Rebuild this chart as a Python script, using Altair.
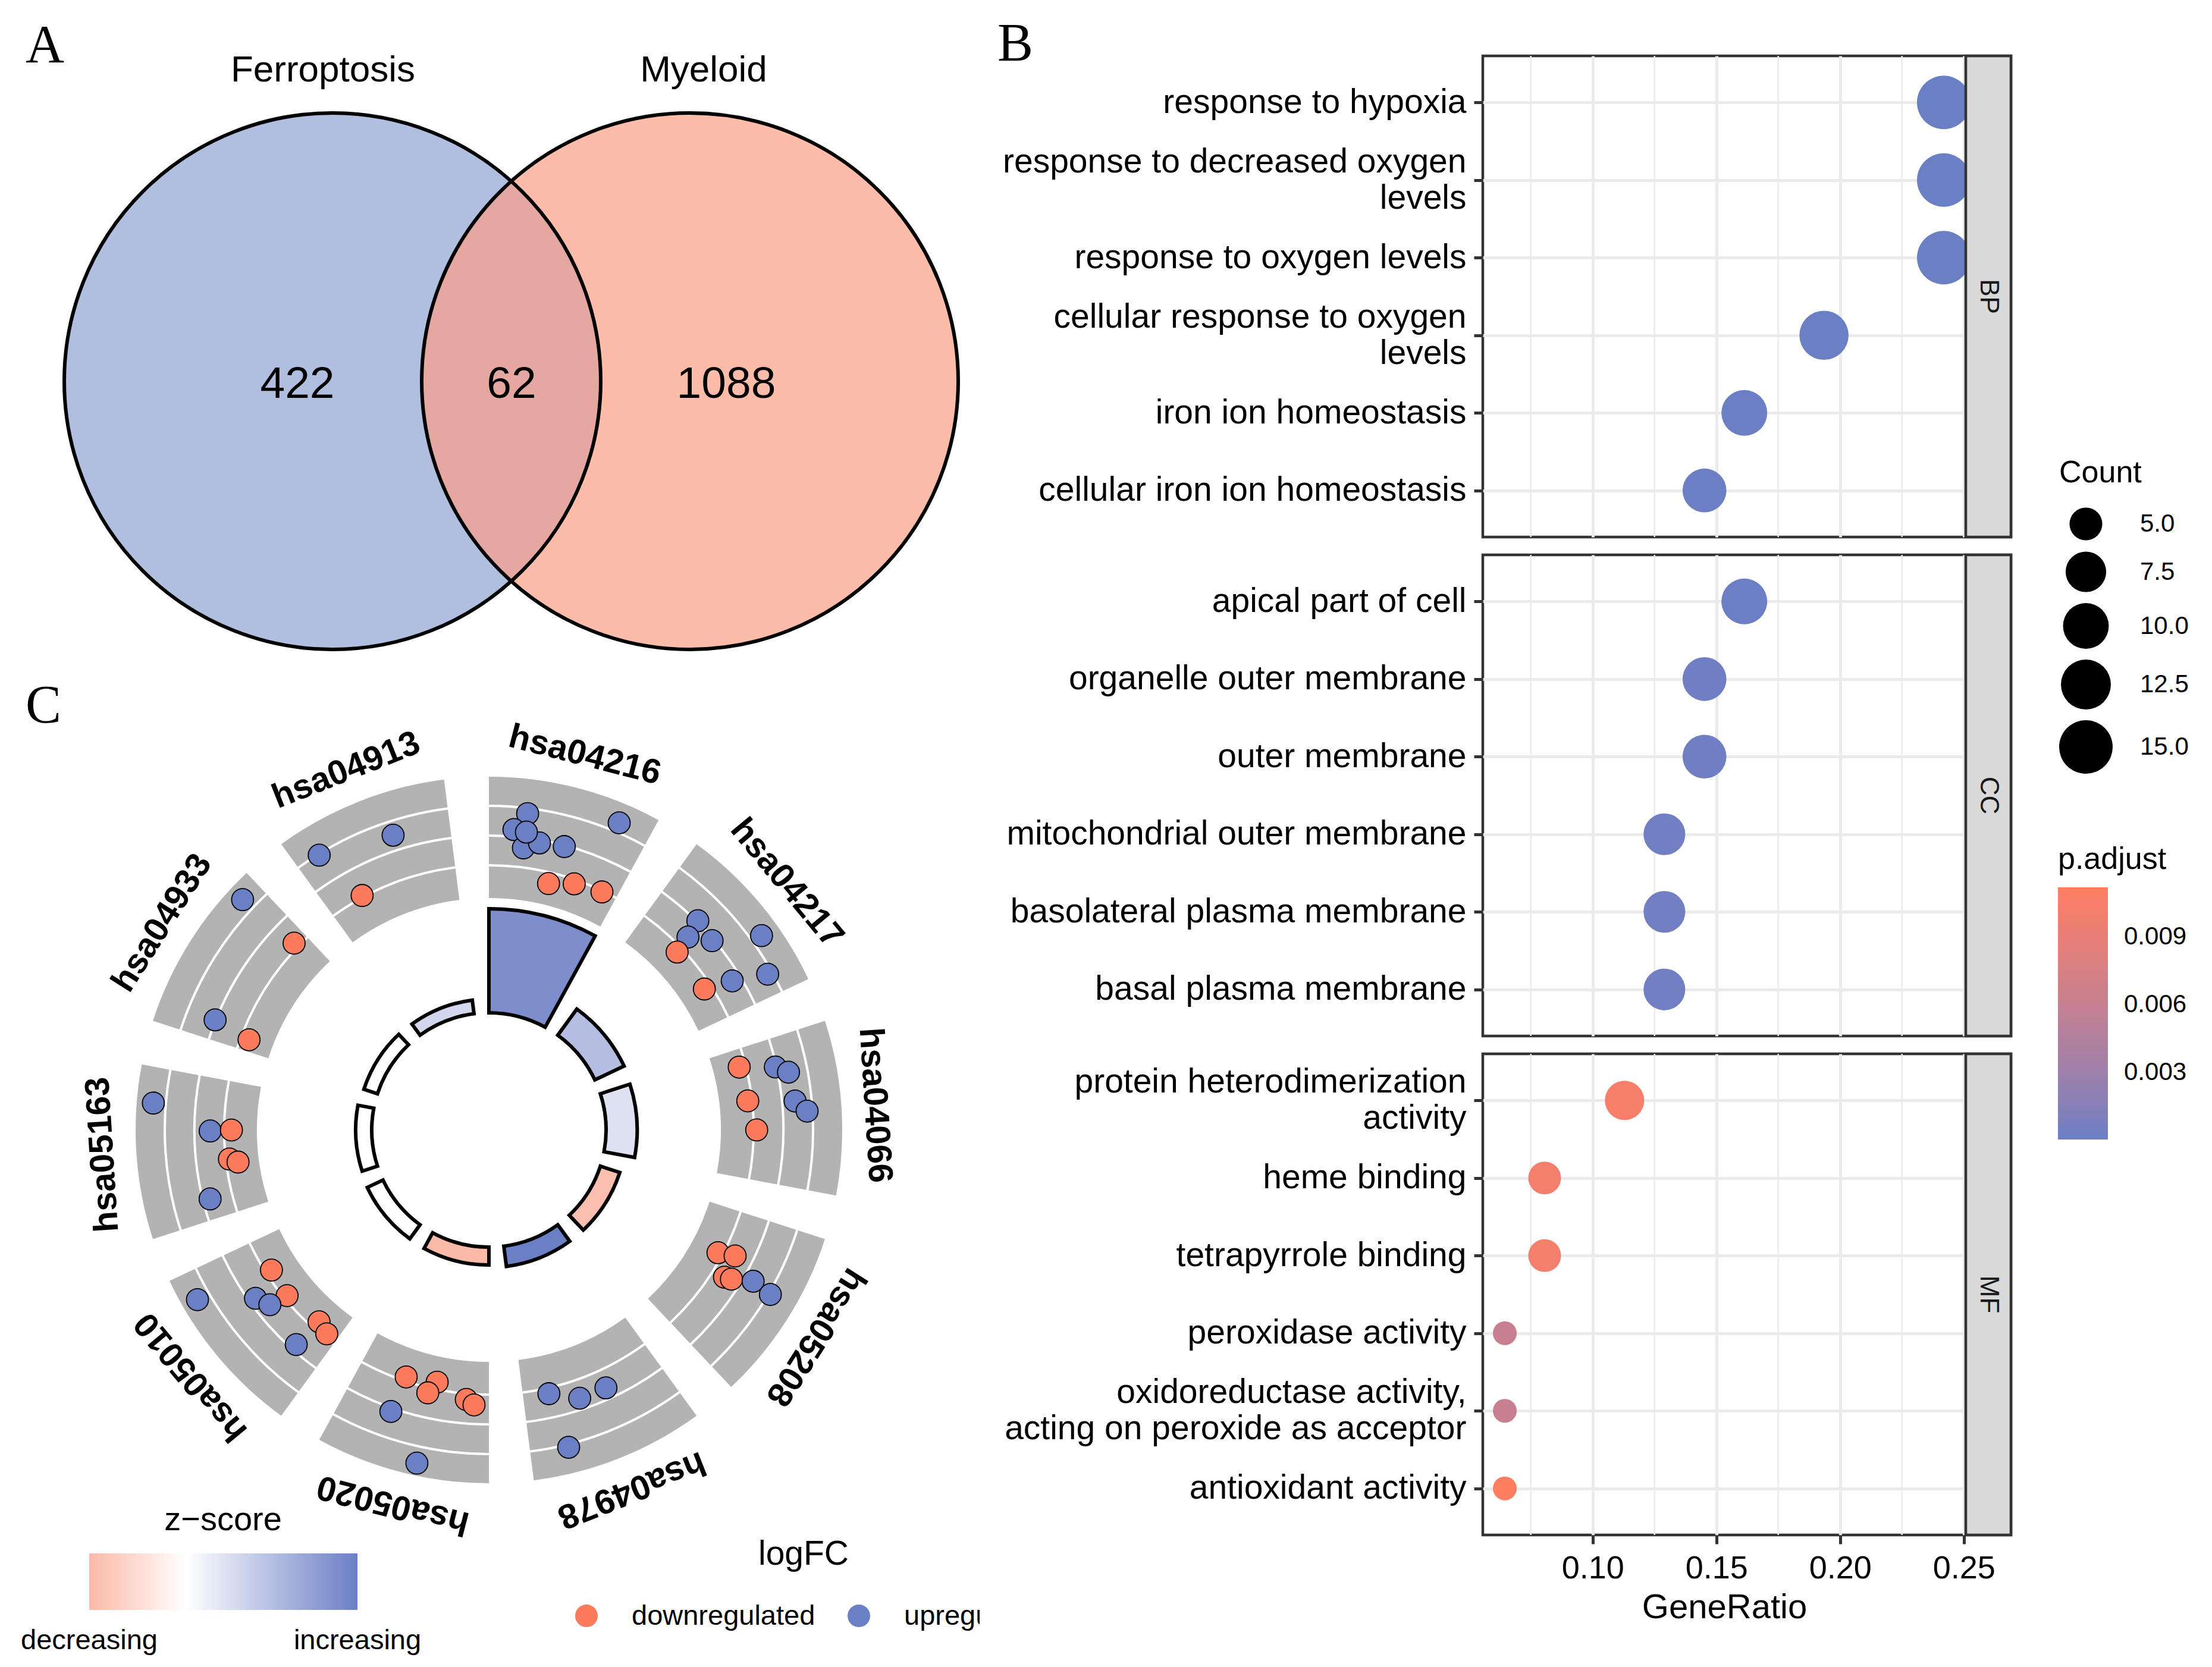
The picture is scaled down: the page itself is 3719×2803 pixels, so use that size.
import math
import pandas as pd
import altair as alt

SANS = "Liberation Sans"
SERIF = "Liberation Serif"

# ======================= DATA =======================
# --- A: Venn diagram ---
venn_sets = ["Ferroptosis", "Myeloid"]
venn_region_counts = [422, 62, 1088]          # only Ferroptosis, both, only Myeloid

# --- B: GO enrichment dot plot ---
go_ontology = ["BP"] * 6 + ["CC"] * 6 + ["MF"] * 6
go_terms = [
    "response to hypoxia",
    "response to decreased oxygen\nlevels",
    "response to oxygen levels",
    "cellular response to oxygen\nlevels",
    "iron ion homeostasis",
    "cellular iron ion homeostasis",
    "apical part of cell",
    "organelle outer membrane",
    "outer membrane",
    "mitochondrial outer membrane",
    "basolateral plasma membrane",
    "basal plasma membrane",
    "protein heterodimerization\nactivity",
    "heme binding",
    "tetrapyrrole binding",
    "peroxidase activity",
    "oxidoreductase activity,\nacting on peroxide as acceptor",
    "antioxidant activity",
]
go_gene_ratio = [0.2419, 0.2419, 0.2419, 0.1935, 0.1613, 0.1452,
                 0.1613, 0.1452, 0.1452, 0.1290, 0.1290, 0.1290,
                 0.1129, 0.0806, 0.0806, 0.0645, 0.0645, 0.0645]
go_count = [15, 15, 15, 12, 10, 9,
            10, 9, 9, 8, 8, 8,
            7, 5, 5, 4, 4, 4]
go_padj = [1.2e-5, 1.2e-5, 1.5e-5, 3.0e-5, 8.0e-5, 1.2e-4,
           1.0e-4, 2.4e-4, 2.4e-4, 3.5e-4, 3.5e-4, 3.5e-4,
           0.0104, 0.0101, 0.0101, 0.0062, 0.0062, 0.0112]
x_major_ticks = [0.10, 0.15, 0.20, 0.25]
x_minor_ticks = [0.075, 0.125, 0.175, 0.225]
count_legend_values = [5.0, 7.5, 10.0, 12.5, 15.0]
padj_legend_values = [0.003, 0.006, 0.009]

# --- C: KEGG GOCircle ---
kegg_pathways = ["hsa04216", "hsa04217", "hsa04066", "hsa05208", "hsa04978",
                 "hsa05020", "hsa05010", "hsa05163", "hsa04933", "hsa04913"]
kegg_neglog10_padj = [7.5, 2.33, 2.24, 1.47, 1.47, 1.29, 1.25, 1.16, 1.03, 0.99]
kegg_zscore = [1.75, 1.0, 0.45, -1.05, 2.0, -1.13, 0.0, 0.0, 0.0, 0.6]

gene_pathway = (["hsa04216"] * 10 + ["hsa04217"] * 8 + ["hsa04066"] * 7 + ["hsa05208"] * 6
                + ["hsa04978"] * 4 + ["hsa05020"] * 7 + ["hsa05010"] * 8 + ["hsa05163"] * 6
                + ["hsa04933"] * 4 + ["hsa04913"] * 3)
U, D = "upregulated", "downregulated"
gene_regulation = ([U, U, U, U, U, U, U, D, D, D]
                   + [U, U, D, U, U, U, U, D]
                   + [D, D, D, U, U, U, U]
                   + [D, D, D, D, U, U]
                   + [U, U, U, U]
                   + [D, D, D, D, D, U, U]
                   + [D, D, U, U, D, D, U, U]
                   + [U, U, D, D, D, U]
                   + [U, D, U, D]
                   + [U, U, D])
gene_logfc = ([0.90, 0.33, -0.24, 0.00, 0.29, 1.39, 0.06, -1.25, -1.02, -0.92]
              + [0.14, -0.47, -1.07, 0.04, 1.43, 0.92, -0.20, -1.12]
              + [-1.10, -1.02, -0.78, 0.06, 0.45, 0.53, 0.90]
              + [-1.04, -0.49, -0.45, -0.22, 0.43, 1.14]
              + [-0.69, -0.27, -0.27, 1.18]
              + [-1.02, -1.12, -0.71, -0.69, -0.53, 0.22, 1.63]
              + [-1.08, -1.00, -0.12, -0.37, -1.16, -1.02, -0.10, 1.51]
              + [1.49, -0.42, -1.12, -1.00, -1.27, -0.14]
              + [1.51, -0.71, 0.12, -1.16]
              + [1.04, 0.61, -0.82])
gene_angle_pos = ([0.243, 0.166, 0.243, 0.348, 0.250, 0.801, 0.519, 0.474, 0.666, 0.885]
                  + [0.312, 0.345, 0.370, 0.477, 0.645, 0.864, 0.784, 0.725]
                  + [0.136, 0.404, 0.627, 0.195, 0.247, 0.439, 0.509]
                  + [0.355, 0.317, 0.488, 0.474, 0.411, 0.429]
                  + [0.808, 0.603, 0.404, 0.763]
                  + [0.645, 0.404, 0.456, 0.167, 0.108, 0.669, 0.425]
                  + [0.739, 0.509, 0.634, 0.537, 0.192, 0.087, 0.206, 0.829]
                  + [0.787, 0.620, 0.627, 0.404, 0.373, 0.143]
                  + [0.874, 0.899, 0.136, 0.091]
                  + [0.150, 0.627, 0.265])
z_legend_labels = ["decreasing", "increasing"]
logfc_legend_labels = ["downregulated", "upregulated"]

# ======================= STYLE / LAYOUT =======================
BLUE = "#6B7FC5"
RED = "#FC7B5C"
SALMON = "#FBB9A8"
GRAY_BAND = "#B3B3B3"
GRID = "#EBEBEB"
BORDER = "#333333"
STRIP = "#D9D9D9"
VENN_FILL = ["#B0BEE0", "#FC9E86"]

LEFT_W, LEFT_H = 1638, 2787          # left column (A + C), page x 8..1646
RIGHT_X0 = 2492                       # page x of GO panels
PLOT_W, PANEL_W, PANEL_H = 812, 888, 809

VENN_CX, VENN_CY, VENN_R = [558, 1159], 640, 451
VENN_TITLE_X, VENN_TITLE_Y = [542, 1182], 136
VENN_NUM_X, VENN_NUM_Y = [499, 859, 1220], 668

CX, CY = 821, 1899
SECTOR_STEP, SECTOR_SPAN = 36.0, 28.7
BAR_R0, BAR_R1 = 197, 372
BAND_EDGES = [(390, 443), (447, 493), (497, 543), (547, 594)]
LFC_R0, LFC_PER_UNIT = 490, 51
R_LABEL = 650
GENE_D, KEY_D = 37, 38               # point diameters (vega symbol size = diameter^2)

XS_L = alt.Scale(domain=[8, 8 + LEFT_W], nice=False, zero=False)
YS_L = alt.Scale(domain=[8, 8 + LEFT_H], nice=False, zero=False, reverse=True)


def LX(f):
    return alt.X(f, type="quantitative", scale=XS_L, axis=None)


def LY(f):
    return alt.Y(f, type="quantitative", scale=YS_L, axis=None)


def LXD(v):
    return alt.XDatum(v, type="quantitative", scale=XS_L, axis=None)


def LYD(v):
    return alt.YDatum(v, type="quantitative", scale=YS_L, axis=None)


ONE = pd.DataFrame({"k": [0]})

# ======================= PANEL A =======================
venn_df = pd.DataFrame({"set": venn_sets, "cx": VENN_CX, "cy": [VENN_CY] * 2, "tx": VENN_TITLE_X})
venn_size = (2 * VENN_R) ** 2
venn_fill = alt.Chart(venn_df).mark_point(shape="circle", filled=True, size=venn_size,
                                          strokeWidth=0, opacity=1).encode(
    x=LX("cx"), y=LY("cy"),
    color=alt.Color("set:N", scale=alt.Scale(domain=venn_sets, range=VENN_FILL), legend=None),
    fillOpacity=alt.FillOpacity("set:N", scale=alt.Scale(domain=venn_sets, range=[1.0, 0.7]), legend=None),
)
venn_line = alt.Chart(venn_df).mark_point(shape="circle", filled=False, size=venn_size,
                                          color="black", strokeWidth=6, opacity=1).encode(
    x=LX("cx"), y=LY("cy"))
venn_title = alt.Chart(venn_df).mark_text(font=SANS, fontSize=62, align="center",
                                          baseline="alphabetic", color="black").encode(
    x=LX("tx"), y=LYD(VENN_TITLE_Y), text="set:N")
num_df = pd.DataFrame({"n": venn_region_counts, "x": VENN_NUM_X})
venn_nums = alt.Chart(num_df).mark_text(font=SANS, fontSize=75, align="center",
                                        baseline="alphabetic", color="black").encode(
    x=LX("x"), y=LYD(VENN_NUM_Y), text="n:Q")
letters_df = pd.DataFrame({"t": ["A", "C"], "x": [42, 42], "y": [104, 1214]})
letters = alt.Chart(letters_df).mark_text(font=SERIF, fontSize=90, align="left",
                                          baseline="alphabetic", color="black").encode(
    x=LX("x"), y=LY("y"), text="t:N")

# ======================= PANEL C =======================
band_rows = []
for i, p in enumerate(kegg_pathways):
    for (r0, r1) in BAND_EDGES:
        band_rows.append({"pathway": p, "idx": i, "r0": r0, "r1": r1})
band_df = pd.DataFrame(band_rows)
bands = alt.Chart(band_df).transform_calculate(
    t0=f"datum.idx*{SECTOR_STEP}*PI/180",
    t1=f"(datum.idx*{SECTOR_STEP}+{SECTOR_SPAN})*PI/180",
).mark_arc(color=GRAY_BAND).encode(
    x=LXD(CX), y=LYD(CY),
    theta=alt.Theta("t0:Q", scale=None, stack=None), theta2="t1:Q",
    radius=alt.Radius("r1:Q", scale=None, stack=None), radius2="r0:Q",
)

path_df = pd.DataFrame({"pathway": kegg_pathways, "nlp": kegg_neglog10_padj, "z": kegg_zscore})
path_df["idx"] = range(len(kegg_pathways))
zmin, zmax = min(kegg_zscore), max(kegg_zscore)
bars = alt.Chart(path_df).transform_calculate(
    t0=f"datum.idx*{SECTOR_STEP}*PI/180",
    t1=f"(datum.idx*{SECTOR_STEP}+{SECTOR_SPAN})*PI/180",
).mark_arc(stroke="black", strokeWidth=6, strokeJoin="miter").encode(
    x=LXD(CX), y=LYD(CY),
    theta=alt.Theta("t0:Q", scale=None, stack=None), theta2="t1:Q",
    radius=alt.Radius("nlp:Q", scale=alt.Scale(type="linear", domain=[0, 7.5], range=[BAR_R0, BAR_R1]),
                      stack=None),
    radius2=alt.value(BAR_R0),
    color=alt.Color("z:Q", scale=alt.Scale(domain=[zmin, 0, zmax], range=[SALMON, "white", BLUE],
                                           interpolate="lab"), legend=None),
)

path_labels = alt.Chart(path_df).transform_calculate(
    ang=f"datum.idx*{SECTOR_STEP}+{SECTOR_SPAN / 2}",
    lx=f"{CX}+{R_LABEL}*sin(datum.ang*PI/180)",
    ly=f"{CY}-{R_LABEL}*cos(datum.ang*PI/180)",
).mark_text(font=SANS, fontSize=58, fontWeight="bold", align="center", baseline="middle",
            color="black").encode(
    x=LX("lx"), y=LY("ly"), text="pathway:N", angle=alt.Angle("ang:Q", scale=None))

gene_df = pd.DataFrame({"pathway": gene_pathway, "regulation": gene_regulation,
                        "logFC": gene_logfc, "pos": gene_angle_pos})
gene_df["idx"] = gene_df["pathway"].map({p: i for i, p in enumerate(kegg_pathways)})
genes = alt.Chart(gene_df).transform_calculate(
    ang=f"(datum.idx*{SECTOR_STEP}+datum.pos*{SECTOR_SPAN})*PI/180",
    rr=f"{LFC_R0}+{LFC_PER_UNIT}*datum.logFC",
    gx=f"{CX}+datum.rr*sin(datum.ang)",
    gy=f"{CY}-datum.rr*cos(datum.ang)",
).mark_circle(size=GENE_D ** 2, stroke="black", strokeWidth=1.8, opacity=1).encode(
    x=LX("gx"), y=LY("gy"),
    color=alt.Color("regulation:N", scale=alt.Scale(domain=[D, U], range=[RED, BLUE]), legend=None),
)

# z-score legend (manual)
zoff = (0 - zmin) / (zmax - zmin)
zgrad = alt.Chart(ONE).mark_rect(color=alt.LinearGradient(
    gradient="linear", x1=0, x2=1, y1=0, y2=0,
    stops=[alt.GradientStop(color=SALMON, offset=0),
           alt.GradientStop(color="white", offset=zoff),
           alt.GradientStop(color=BLUE, offset=1)])).encode(
    x=LXD(149), x2=alt.X2Datum(600), y=LYD(2611), y2=alt.Y2Datum(2706))
ztitle = alt.Chart(ONE).mark_text(text="z\u2212score", font=SANS, fontSize=56, align="center",
                                  baseline="alphabetic", color="black").encode(
    x=LXD(374), y=LYD(2572))
zlab_df = pd.DataFrame({"t": z_legend_labels, "x": [149, 600]})
zlabels = alt.Chart(zlab_df).mark_text(font=SANS, fontSize=47, align="center", baseline="alphabetic",
                                       color="black").encode(x=LX("x"), y=LYD(2772), text="t:N")

# logFC legend (manual, clipped at the panel edge like the reference)
lfc_title = alt.Chart(ONE).mark_text(text="logFC", font=SANS, fontSize=57, align="center",
                                     baseline="alphabetic", color="black").encode(
    x=LXD(1350), y=LYD(2630))
lfc_df = pd.DataFrame({"t": logfc_legend_labels, "kx": [985, 1443]})
lfc_keys = alt.Chart(lfc_df).mark_circle(size=KEY_D ** 2, opacity=1, clip=True).encode(
    x=LX("kx"), y=LYD(2716),
    color=alt.Color("t:N", scale=alt.Scale(domain=[D, U], range=[RED, BLUE]), legend=None))
lfc_labels = alt.Chart(lfc_df).transform_calculate(lx="datum.kx+76").mark_text(
    font=SANS, fontSize=47, align="left", baseline="alphabetic", color="black", clip=True).encode(
    x=LX("lx"), y=LYD(2731), text="t:N")

left = alt.layer(
    venn_fill, venn_line, venn_title, venn_nums, letters,
    bands, bars, genes, path_labels,
    zgrad, ztitle, zlabels, lfc_title, lfc_keys, lfc_labels,
).resolve_scale(color="independent", fillOpacity="independent").properties(width=LEFT_W, height=LEFT_H)

# ======================= PANEL B =======================
go_df = pd.DataFrame({"ontology": go_ontology, "term": go_terms, "ratio": go_gene_ratio,
                      "count": go_count, "padj": go_padj})
XS_B = alt.Scale(domain=[0.0556, 0.2508], range=[0, PLOT_W], nice=False, zero=False)


def diam(c):
    return 40 + 50 * math.sqrt((c - 4) / 11)


SIZE_DOMAIN = [4, 5, 6, 7, 7.5, 8, 9, 10, 11, 12, 12.5, 13, 14, 15]
SIZE_SCALE = alt.Scale(domain=SIZE_DOMAIN, range=[diam(c) ** 2 for c in SIZE_DOMAIN])
COLOR_SCALE = alt.Scale(domain=[1e-5, 0.0112], range=[BLUE, "#FF7E62"], interpolate="lab")

MULTILINE_UP = {"condition": {"test": "indexof(datum.label, '\\n') >= 0", "value": -30.5}, "value": 0}


def go_panel(ont, bottom, legends):
    d = go_df[go_df.ontology == ont]
    terms = d.term.tolist()
    if bottom:
        xaxis = alt.Axis(values=x_major_ticks, format=".2f", title="GeneRatio", titleFont=SANS,
                         titleFontSize=58, titleFontWeight="normal", titleColor="black", titlePadding=10,
                         labelFont=SANS, labelFontSize=54, labelColor="black", labelPadding=14,
                         tickSize=15, tickWidth=5, tickColor=BORDER, domain=False,
                         grid=True, gridColor=GRID, gridWidth=5, labelFlush=False)
    else:
        xaxis = alt.Axis(values=x_major_ticks, labels=False, ticks=False, domain=False, title=None,
                         grid=True, gridColor=GRID, gridWidth=5)
    yaxis = alt.Axis(title=None, labelFont=SANS, labelFontSize=57, labelColor="black",
                     labelExpr="split(datum.label, '\\n')", labelLineHeight=61, labelLimit=0,
                     labelOffset=MULTILINE_UP,
                     tickColor=BORDER, tickWidth=5, tickSize=15, labelPadding=13, domain=False,
                     grid=True, gridColor=GRID, gridWidth=5)
    if legends:
        size_leg = alt.Legend(title="Count", orient="none", legendX=969, legendY=676,
                              values=count_legend_values, format=".1f", padding=0,
                              titleFont=SANS, titleFontSize=52, titleFontWeight="normal",
                              titleColor="black", titlePadding=31, titleLimit=0,
                              labelFont=SANS, labelFontSize=42, labelColor="black", labelOffset=46,
                              symbolFillColor="black", symbolStrokeWidth=0, symbolType="circle",
                              symbolOffset=0, rowPadding=18)
        color_leg = alt.Legend(title="p.adjust", orient="none", legendX=967, legendY=1326,
                               direction="vertical", gradientLength=424, gradientThickness=84,
                               values=padj_legend_values, format=".3f", padding=0,
                               titleFont=SANS, titleFontSize=52, titleFontWeight="normal",
                               titleColor="black", titlePadding=20, titleLimit=0,
                               labelFont=SANS, labelFontSize=42, labelColor="black", labelOffset=27,
                               gradientStrokeWidth=0)
    else:
        size_leg = None
        color_leg = None
    minor = alt.Chart(pd.DataFrame({"ratio": x_minor_ticks})).mark_rule(
        color=GRID, strokeWidth=2.5).encode(x=alt.X("ratio:Q", scale=XS_B, axis=xaxis))
    pts = alt.Chart(d).mark_circle(opacity=1).encode(
        x=alt.X("ratio:Q", scale=XS_B, axis=xaxis),
        y=alt.Y("term:N", sort=terms, scale=alt.Scale(type="point", padding=0.6), axis=yaxis),
        size=alt.Size("count:Q", scale=SIZE_SCALE, legend=size_leg),
        color=alt.Color("padj:Q", scale=COLOR_SCALE, legend=color_leg),
    )
    sdf = pd.DataFrame({"ontology": [ont]})
    strip = alt.Chart(sdf).mark_rect(fill=STRIP, stroke=BORDER, strokeWidth=4.5).encode(
        x=alt.value(PLOT_W), x2=alt.value(PANEL_W), y=alt.value(0), y2=alt.value(PANEL_H))
    strip_txt = alt.Chart(sdf).mark_text(angle=90, font=SANS, fontSize=44, color="#1A1A1A",
                                         align="center", baseline="middle").encode(
        x=alt.value((PLOT_W + PANEL_W) / 2), y=alt.value(PANEL_H / 2), text="ontology:N")
    return alt.layer(minor, pts, strip, strip_txt).properties(
        width=PANEL_W, height=PANEL_H, view=alt.ViewBackground(stroke=BORDER, strokeWidth=4.5))


spacer = alt.Chart(ONE).mark_text(text="B", font=SERIF, fontSize=90, align="left",
                                  baseline="alphabetic", color="black").encode(
    x=alt.value(1676 - RIGHT_X0), y=alt.value(101 - 8)).properties(width=PANEL_W, height=55)

right = alt.vconcat(spacer, go_panel("BP", False, True), go_panel("CC", False, False),
                    go_panel("MF", True, False), spacing=30, bounds="flush").resolve_scale(
    x="independent", y="independent", size="independent", color="independent")

chart = alt.hconcat(left, right, spacing=RIGHT_X0 - 8 - LEFT_W, bounds="flush", padding=0).resolve_scale(
    x="independent", y="independent", color="independent", size="independent"
).configure(font=SANS).configure_view(stroke="transparent")

chart.save("out.html", embed_options={"renderer": "svg", "actions": False})
